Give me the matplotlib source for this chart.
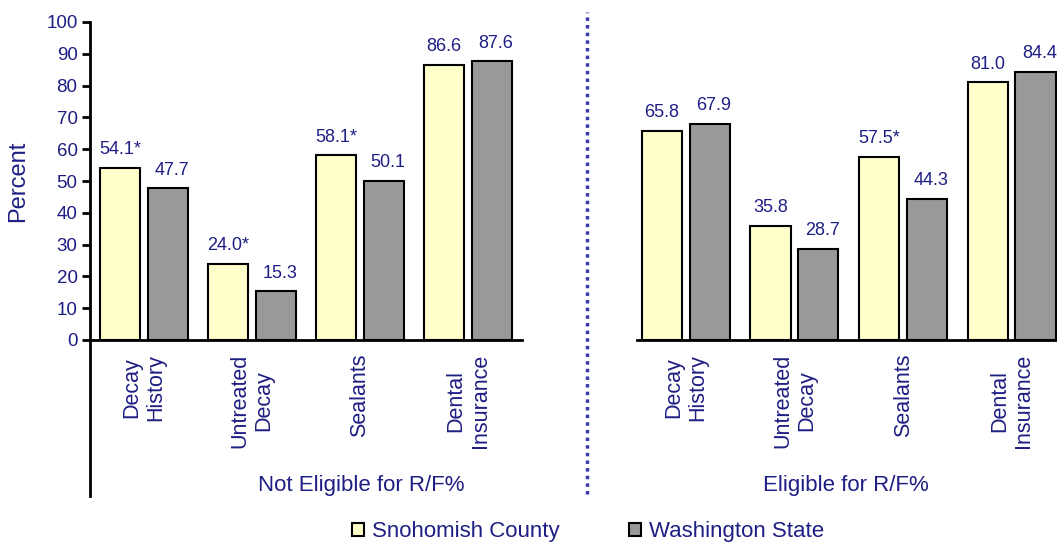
import matplotlib.pyplot as plt
from matplotlib.lines import Line2D
from matplotlib.patches import Patch
import numpy as np

plt.rcParams['font.family'] = ['Liberation Sans', 'DejaVu Sans']

categories = ['Decay\nHistory', 'Untreated\nDecay', 'Sealants', 'Dental\nInsurance']
groups = ['Not Eligible for R/F%', 'Eligible for R/F%']
series = ['Snohomish County', 'Washington State']

county_not = [54.1, 24.0, 58.1, 86.6]
state_not = [47.7, 15.3, 50.1, 87.6]
county_elig = [65.8, 35.8, 57.5, 81.0]
state_elig = [67.9, 28.7, 44.3, 84.4]
# significance flags for the county bars
star_not = [True, True, True, False]
star_elig = [False, False, True, False]

NAVY = '#1e1e84'
YELLOW = '#ffffcc'
GRAY = '#999999'

W, H = 1057, 544
fig = plt.figure(figsize=(W / 100, H / 100), dpi=100)


def px(x0, y0, x1, y1):
    # pixel box (top-left origin) -> figure fraction rect
    return [x0 / W, 1 - y1 / H, (x1 - x0) / W, (y1 - y0) / H]


def panel(ax, county, state, stars, xlim):
    x = np.arange(len(categories))
    bw = 0.37
    off = 0.22
    b1 = ax.bar(x - off, county, bw, color=YELLOW, edgecolor='black', linewidth=1.5)
    b2 = ax.bar(x + off, state, bw, color=GRAY, edgecolor='black', linewidth=1.5)
    for rect, v, s in zip(b1, county, stars):
        ax.annotate(f'{v:.1f}' + ('*' if s else ''),
                    (rect.get_x() + rect.get_width() / 2, v),
                    xytext=(0, 7), textcoords='offset points',
                    ha='center', va='bottom', color=NAVY, fontsize=13)
    for rect, v in zip(b2, state):
        ax.annotate(f'{v:.1f}',
                    (rect.get_x() + rect.get_width() / 2, v),
                    xytext=(3, 7), textcoords='offset points',
                    ha='center', va='bottom', color=NAVY, fontsize=13)
    ax.set_xlim(*xlim)
    ax.set_ylim(0, 100)
    ax.set_xticks(x)
    ax.set_xticklabels(categories, rotation=90, va='top', ha='center',
                       multialignment='center', color=NAVY, fontsize=15.5)
    ax.tick_params(axis='x', length=0, pad=10)
    for s in ['top', 'right']:
        ax.spines[s].set_visible(False)
    ax.spines['bottom'].set_linewidth(2)
    ax.set_facecolor('none')


ax1 = fig.add_axes(px(90, 22, 522, 340))
panel(ax1, county_not, state_not, star_not, (-0.5, 3.5))
ax1.set_yticks(range(0, 101, 10))
ax1.tick_params(axis='y', length=6, width=2, colors='black', labelcolor=NAVY,
                labelsize=13.5, pad=3)
ax1.spines['left'].set_linewidth(2)
ax1.set_ylabel('Percent', color=NAVY, fontsize=17, labelpad=12)

ax2 = fig.add_axes(px(637, 22, 1066, 340))
panel(ax2, county_elig, state_elig, star_elig, (-0.45, 3.5))
ax2.spines['left'].set_visible(False)
ax2.set_yticks([])

# left axis line runs down past the category labels
fig.add_artist(Line2D([90 / W, 90 / W], [1 - 496 / H, 1 - 340 / H],
                      color='black', linewidth=2))
# dotted divider between the two groups
fig.add_artist(Line2D([587 / W, 587 / W], [1 - 494 / H, 1 - 12 / H],
                      color='#3b3ba8', linewidth=2.5, linestyle=(0, (1, 1.2))))

fig.text(361 / W, 1 - 485 / H, groups[0], ha='center', va='center',
         color=NAVY, fontsize=16)
fig.text(846 / W, 1 - 485 / H, groups[1], ha='center', va='center',
         color=NAVY, fontsize=16)

handles = [Patch(facecolor=YELLOW, edgecolor='black', linewidth=1.5),
           Patch(facecolor=GRAY, edgecolor='black', linewidth=1.5)]
fig.legend(handles, series, loc='center left', bbox_to_anchor=(352 / W, 1 - 532 / H),
           ncol=2, frameon=False, fontsize=16, labelcolor=NAVY,
           handlelength=0.55, handleheight=0.55, handletextpad=0.35,
           columnspacing=3.1, borderpad=0, borderaxespad=0)

fig.savefig('out.png', dpi=100)
